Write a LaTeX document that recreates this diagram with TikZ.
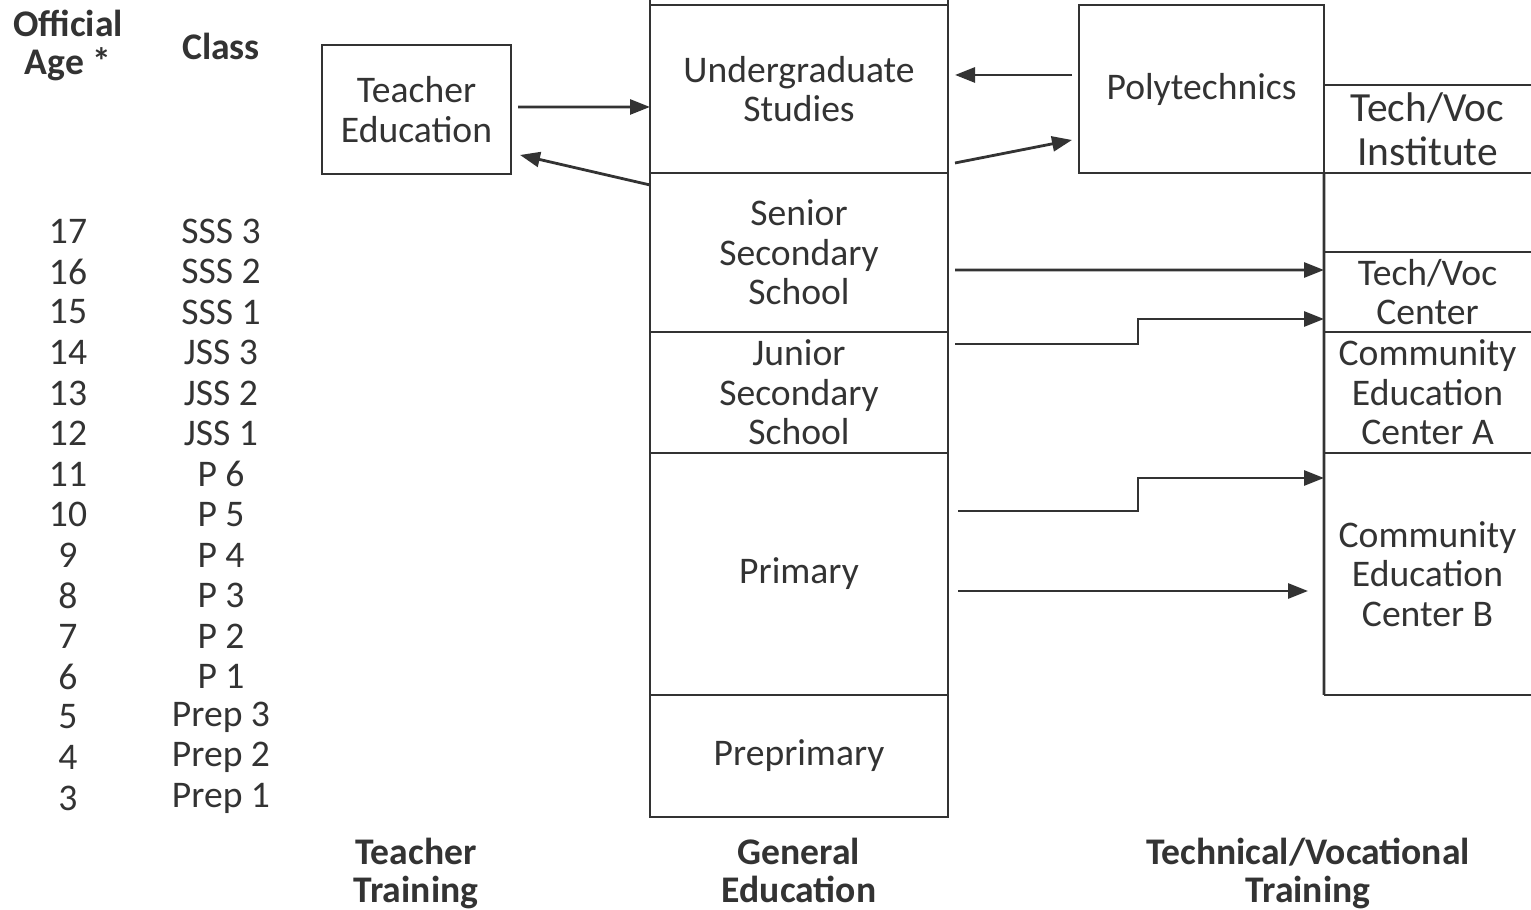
\documentclass[tikz,border=0pt]{standalone}
\usepackage{fontspec}
\setmainfont{Carlito}
\usetikzlibrary{arrows.meta}

\begin{document}
\begin{tikzpicture}[inner sep=0pt,outer sep=0pt,thick,black!80,
font=\fontsize{10.7}{11.2}\selectfont,
>={Triangle[length=0.2cm,width=0.15cm]},
level/.style={draw,rectangle,minimum width=2.98cm,align=center},
cell/.style={rectangle,minimum width=2.07cm,align=center},
hdr/.style={align=center,font=\fontsize{10.7}{10.8}\selectfont\bfseries}]
\useasboundingbox (0,0) rectangle (15.31,9.10);
% age and class table
\draw (0.68,8.645) node[hdr] (agehdr) {Official\\Age *};
\draw (2.21,8.64) node[hdr] (clshdr) {Class};
\foreach \a/\c in {17/SSS 3,16/SSS 2,15/SSS 1,14/JSS 3,13/JSS 2,12/JSS 1,11/P 6,10/P 5,9/P 4,8/P 3,7/P 2,6/P 1,5/Prep 3,4/Prep 2,3/Prep 1}
  \draw (0.68,{6.79-(17-\a)*0.405}) node (age\a) {\a} (2.21,{6.79-(17-\a)*0.405}) node (cls\a) {\c};
% general education
\draw (7.99,8.21) node[level,minimum height=1.68cm] (ug) {Undergraduate\\Studies};
\draw (7.99,6.575) node[level,minimum height=1.59cm] (sss) {Senior\\Secondary\\School};
\draw (7.99,5.175) node[level,minimum height=1.21cm] (jss) {Junior\\Secondary\\School};
\draw (7.99,3.36) node[level,minimum height=2.42cm] (pri) {Primary};
\draw (7.99,1.54) node[level,minimum height=1.22cm] (pre) {Preprimary};
\draw (ug.north west) -- ++(0,0.05) (ug.north east) -- ++(0,0.05);
% teacher training
\draw (4.165,8.005) node[draw,minimum width=1.89cm,minimum height=1.29cm,align=center] (te) {Teacher\\Education};
% technical/vocational
\draw (12.015,8.21) node[draw,minimum width=2.45cm,minimum height=1.68cm] (poly) {Polytechnics};
\draw (14.275,7.81) node[cell,minimum height=0.88cm,font=\fontsize{11.8}{12.4}\selectfont] (tvi) {Tech/Voc\\Institute};
\draw (14.275,6.18) node[cell,minimum height=0.80cm] (tvc) {Tech/Voc\\Center};
\draw (14.275,5.175) node[cell,minimum height=1.21cm] (ceA) {Community\\Education\\Center A};
\draw (14.275,3.36) node[cell,minimum height=2.42cm] (ceB) {Community\\Education\\Center B};
\draw (poly.south east) -- (ceB.south west);
\draw (tvi.north west) -- (tvi.north east) (tvi.south west) -- (tvi.south east)
  (tvc.north west) -- (tvc.north east) (ceA.north west) -- (ceA.north east)
  (ceB.north west) -- (ceB.north east) (ceB.south west) -- (ceB.south east);
% arrows
\draw[->] ([xshift=0.07cm,yshift=0.025cm]te.east) -- ([yshift=-0.18cm]ug.west);
\draw[->] ([yshift=-0.12cm]ug.south west) -- ([xshift=0.09cm,yshift=-0.455cm]te.east);
\draw[->] ([xshift=-0.07cm,yshift=0.14cm]poly.west) -- ([xshift=0.07cm,yshift=0.14cm]ug.east);
\draw[->] ([xshift=0.07cm,yshift=-0.74cm]ug.east) -- ([xshift=-0.07cm,yshift=-0.51cm]poly.west);
\draw[->] ([xshift=0.07cm,yshift=-0.175cm]sss.east) -- ([yshift=0.22cm]tvc.west);
\draw[->] ([xshift=0.07cm,yshift=0.485cm]jss.east) -- ++(1.83,0) |- ([yshift=-0.27cm]tvc.west);
\draw[->] ([xshift=0.1cm,yshift=0.63cm]pri.east) -- ++(1.8,0) |- ([yshift=0.96cm]ceB.west);
\draw[->] ([xshift=0.1cm,yshift=-0.17cm]pri.east) -- ([xshift=-0.16cm,yshift=-0.17cm]ceB.west);
% column labels
\draw (4.16,0.72) node[hdr,anchor=north] (tt) {Teacher\\Training};
\draw (7.99,0.72) node[hdr,anchor=north] (ge) {General\\Education};
\draw (13.08,0.72) node[hdr,anchor=north] (tvt) {Technical/Vocational\\Training};
\end{tikzpicture}
\end{document}
